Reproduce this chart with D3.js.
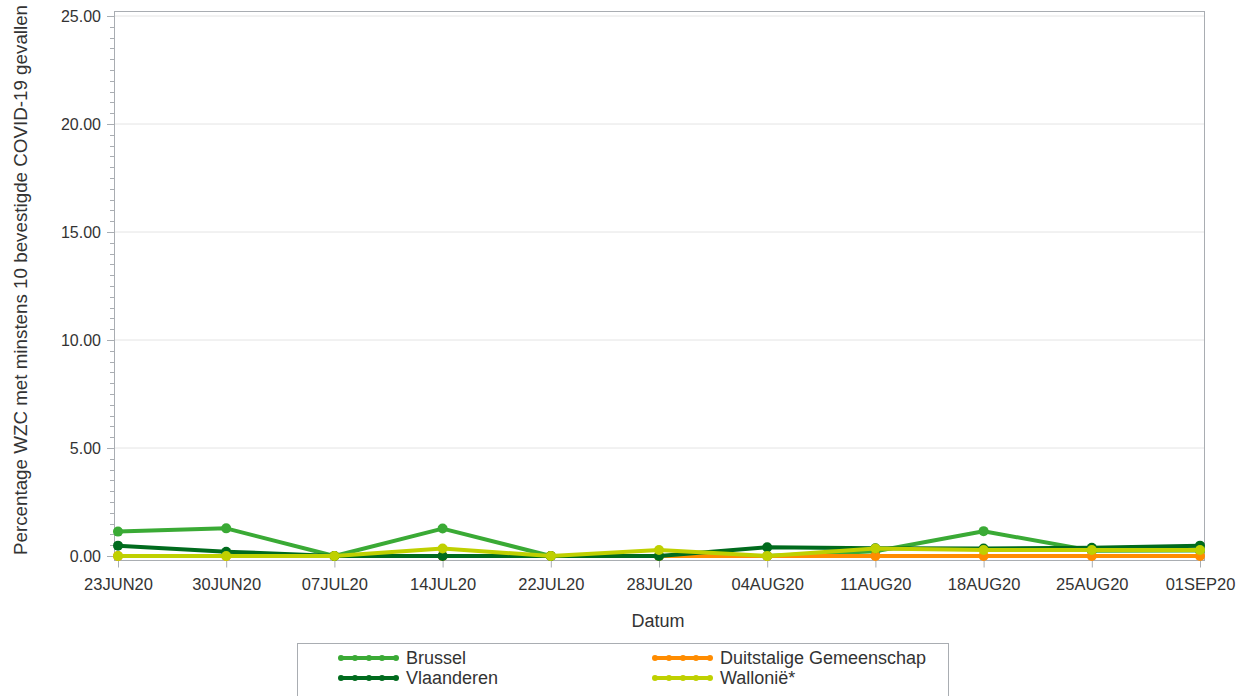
<!DOCTYPE html>
<html>
<head>
<meta charset="utf-8">
<script src="https://cdn.jsdelivr.net/npm/d3@7"></script>
<style>
  body { margin: 0; background: #fff; }
  text { font-family: "Liberation Sans", Arial, sans-serif; fill: #333; }
</style>
</head>
<body>
<div id="chart"></div>
<script>
// data
var dates = ["23JUN20", "30JUN20", "07JUL20", "14JUL20", "22JUL20", "28JUL20",
             "04AUG20", "11AUG20", "18AUG20", "25AUG20", "01SEP20"];
var brussel     = [1.13, 1.28, 0, 1.27, 0, 0, 0, 0.22, 1.15, 0.24, 0.25];
var duitstalige = [0, 0, 0, 0, 0, 0, 0, 0, 0, 0, 0];
var vlaanderen  = [0.48, 0.2, 0, 0, 0, 0, 0.4, 0.36, 0.35, 0.38, 0.48];
var wallonie    = [0, 0, 0, 0.35, 0, 0.28, 0, 0.35, 0.28, 0.28, 0.28];
var yTicks = [0, 5, 10, 15, 20, 25];

var series = [
  {name: "Brussel", values: brussel, color: "#3aaa35"},
  {name: "Duitstalige Gemeenschap", values: duitstalige, color: "#ff8c00"},
  {name: "Vlaanderen", values: vlaanderen, color: "#006b1d"},
  {name: "Wallonië*", values: wallonie, color: "#bfd000"}
];

var svgWidth = 1245;
var svgHeight = 696;
var frame = {left: 114, right: 1204, top: 11, bottom: 560};

var svg = d3.select("#chart")
  .append("svg")
  .attr("width", svgWidth)
  .attr("height", svgHeight);

var xScale = d3.scalePoint()
  .domain(dates)
  .range([118, 1200]);

var yScale = d3.scaleLinear()
  .domain([0, 25])
  .range([556, 16]);

// gridlines
svg.append("g")
  .selectAll("line")
  .data(yTicks)
  .enter()
  .append("line")
  .attr("x1", frame.left)
  .attr("x2", frame.right)
  .attr("y1", d => yScale(d))
  .attr("y2", d => yScale(d))
  .attr("stroke", "#e4e4e4")
  .attr("stroke-width", 1);

// frame
svg.append("rect")
  .attr("x", frame.left + 0.5)
  .attr("y", frame.top + 0.5)
  .attr("width", frame.right - frame.left)
  .attr("height", frame.bottom - frame.top)
  .attr("fill", "none")
  .attr("stroke", "#a9adb2")
  .attr("stroke-width", 1);

// y axis minor ticks
var minor = d3.range(0, 25.01, 0.5);
svg.append("g")
  .selectAll("line")
  .data(minor)
  .enter()
  .append("line")
  .attr("x1", d => yTicks.indexOf(d) >= 0 ? frame.left - 7 : frame.left - 4)
  .attr("x2", frame.left)
  .attr("y1", d => Math.round(yScale(d)) + 0.5)
  .attr("y2", d => Math.round(yScale(d)) + 0.5)
  .attr("stroke", "#a9adb2");

var leftAxis = d3.axisLeft(yScale)
  .tickValues(yTicks)
  .tickFormat(d3.format(".2f"))
  .tickSize(0)
  .tickPadding(13);

svg.append("g")
  .attr("transform", `translate(${frame.left}, 0)`)
  .call(leftAxis)
  .call(g => g.select(".domain").remove())
  .selectAll("text")
  .style("font-size", "16px")
  .style("font-family", "Liberation Sans, Arial, sans-serif")
  .attr("fill", "#333");

var bottomAxis = d3.axisBottom(xScale)
  .tickSize(7)
  .tickPadding(11);

svg.append("g")
  .attr("transform", `translate(0, ${frame.bottom + 0.5})`)
  .call(bottomAxis)
  .call(g => g.select(".domain").remove())
  .call(g => g.selectAll("line").attr("stroke", "#a9adb2"))
  .selectAll("text")
  .style("font-size", "16.5px")
  .style("font-family", "Liberation Sans, Arial, sans-serif")
  .attr("fill", "#333");

// lines
var line = d3.line()
  .x((d, i) => xScale(dates[i]))
  .y(d => yScale(d));

series.forEach(function(s) {
  svg.append("path")
    .datum(s.values)
    .attr("d", line)
    .attr("fill", "none")
    .attr("stroke", s.color)
    .attr("stroke-width", 4)
    .attr("stroke-linejoin", "round");

  svg.append("g")
    .selectAll("circle")
    .data(s.values)
    .enter()
    .append("circle")
    .attr("cx", (d, i) => xScale(dates[i]))
    .attr("cy", d => yScale(d))
    .attr("r", 5)
    .attr("fill", s.color);
});

// axis labels
svg.append("text")
  .attr("transform", `translate(27, ${(16 + 556) / 2 - 6}) rotate(-90)`)
  .attr("text-anchor", "middle")
  .style("font-size", "18.8px")
  .text("Percentage WZC met minstens 10 bevestigde COVID-19 gevallen");

svg.append("text")
  .attr("x", 658)
  .attr("y", 627)
  .attr("text-anchor", "middle")
  .style("font-size", "18px")
  .text("Datum");

// legend
var legend = svg.append("g");
legend.append("rect")
  .attr("x", 297.5)
  .attr("y", 643.5)
  .attr("width", 651)
  .attr("height", 60)
  .attr("fill", "none")
  .attr("stroke", "#a9adb2");

var legendPos = [
  {x: 341, y: 658}, {x: 655, y: 658},
  {x: 341, y: 678}, {x: 655, y: 678}
];

series.forEach(function(s, i) {
  var p = legendPos[i];
  var lg = legend.append("g").attr("transform", `translate(${p.x}, ${p.y})`);
  lg.append("line")
    .attr("x1", 0).attr("x2", 55)
    .attr("y1", 0).attr("y2", 0)
    .attr("stroke", s.color)
    .attr("stroke-width", 4);
  lg.selectAll("circle")
    .data([0, 14, 28, 41, 55])
    .enter()
    .append("circle")
    .attr("cx", d => d)
    .attr("cy", 0)
    .attr("r", 3)
    .attr("fill", s.color);
  lg.append("text")
    .attr("x", 65)
    .attr("y", 6)
    .style("font-size", "18px")
    .text(s.name);
});
</script>
</body>
</html>
